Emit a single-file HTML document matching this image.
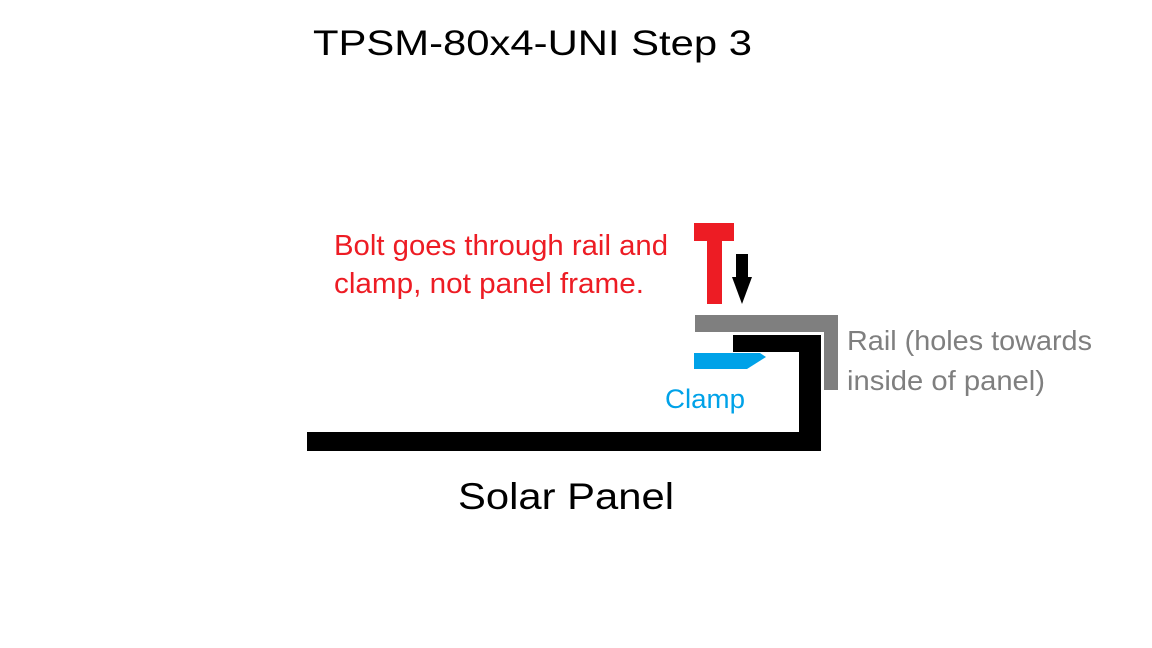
<!DOCTYPE html>
<html><head><meta charset="utf-8"><style>html,body{margin:0;padding:0;background:#fff;}svg{display:block;}</style></head>
<body>
<svg width="1152" height="648" viewBox="0 0 1152 648" xmlns="http://www.w3.org/2000/svg" font-family="Liberation Sans, sans-serif">
<rect width="1152" height="648" fill="#fff"/>
<text x="313" y="55" font-size="35" textLength="439" lengthAdjust="spacingAndGlyphs" fill="#000">TPSM-80x4-UNI Step 3</text>
<text x="334" y="255" font-size="29" textLength="334" lengthAdjust="spacingAndGlyphs" fill="#ed1c24">Bolt goes through rail and</text>
<text x="334" y="293" font-size="29" textLength="310" lengthAdjust="spacingAndGlyphs" fill="#ed1c24">clamp, not panel frame.</text>
<text x="847" y="350" font-size="28" textLength="245" lengthAdjust="spacingAndGlyphs" fill="#7f7f7f">Rail (holes towards</text>
<text x="847" y="390" font-size="28" textLength="198" lengthAdjust="spacingAndGlyphs" fill="#7f7f7f">inside of panel)</text>
<text x="665" y="408" font-size="27" textLength="80" lengthAdjust="spacingAndGlyphs" fill="#00a2e8">Clamp</text>
<text x="458" y="509" font-size="37" textLength="216" lengthAdjust="spacingAndGlyphs" fill="#000">Solar Panel</text>
<!-- red T -->
<rect x="694" y="223" width="40" height="18" fill="#ed1c24"/>
<rect x="707" y="241" width="15" height="63" fill="#ed1c24"/>
<!-- arrow -->
<rect x="736" y="254" width="12" height="24" fill="#000"/>
<polygon points="732,277 752,277 742,304" fill="#000"/>
<!-- gray rail -->
<rect x="695" y="315" width="143" height="17" fill="#7f7f7f"/>
<rect x="824" y="315" width="14" height="75" fill="#7f7f7f"/>
<!-- black frame -->
<rect x="733" y="335" width="88" height="17" fill="#000"/>
<rect x="799" y="335" width="22" height="116" fill="#000"/>
<rect x="307" y="432" width="514" height="19" fill="#000"/>
<!-- clamp -->
<polygon points="694,353 760,353 766,357 747,369 694,369" fill="#00a2e8"/>
</svg>
</body></html>
